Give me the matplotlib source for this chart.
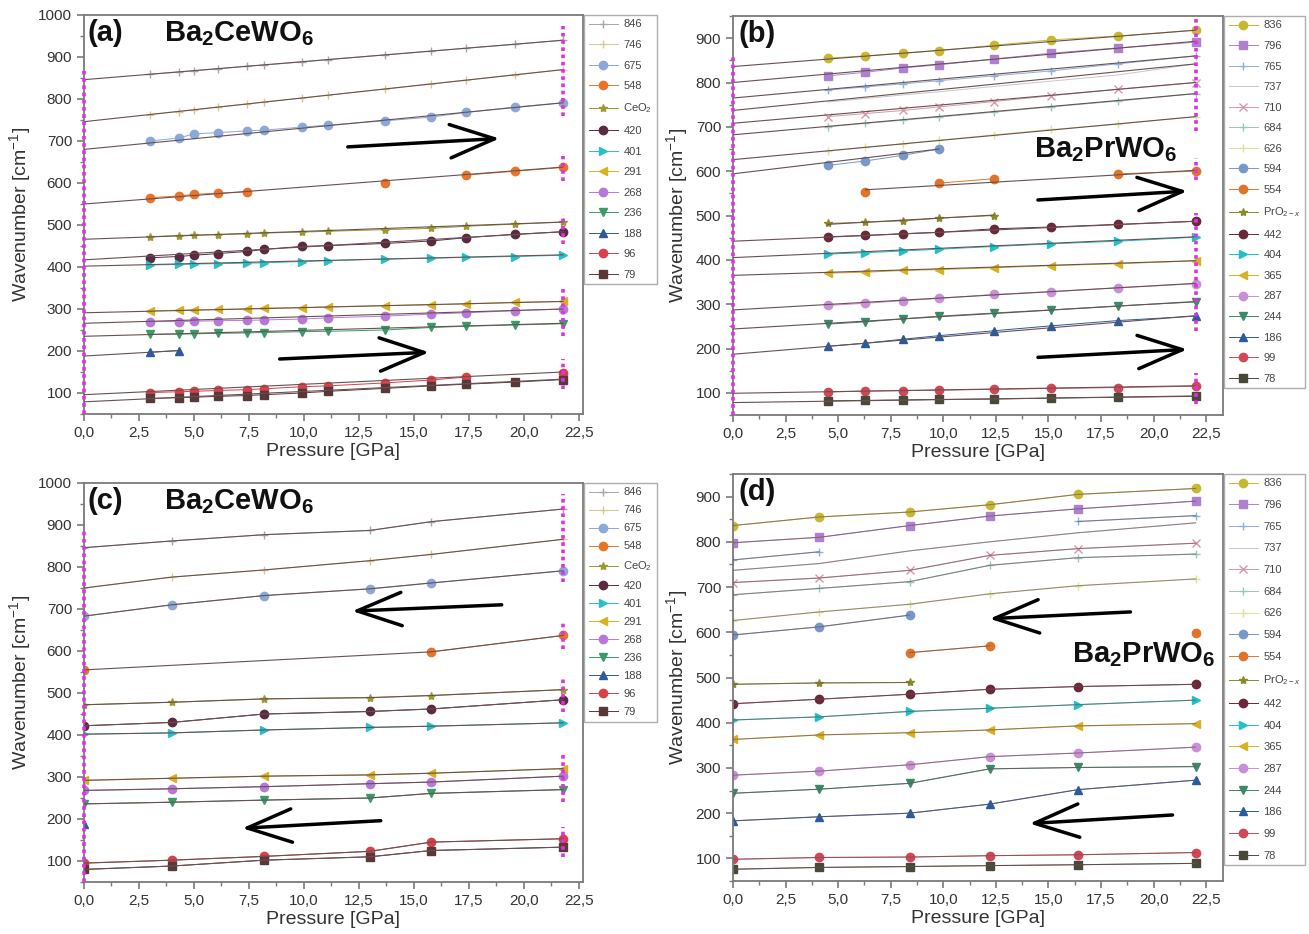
import numpy as np
import matplotlib
matplotlib.use("Agg")
import matplotlib.pyplot as plt
from matplotlib.ticker import MultipleLocator, FuncFormatter

plt.rcParams['font.family'] = ['Liberation Sans', 'DejaVu Sans']
plt.rcParams['mathtext.fontset'] = 'custom'
plt.rcParams['mathtext.rm'] = 'Liberation Sans'
plt.rcParams['mathtext.it'] = 'Liberation Sans:italic'
plt.rcParams['mathtext.bf'] = 'Liberation Sans:bold'

nan = np.nan

# ---------------- data ----------------
labels_ce = ["846", "746", "675", "548", "CeO$_2$", "420", "401", "291", "268", "236", "188", "96", "79"]
labels_pr = ["836", "796", "765", "737", "710", "684", "626", "594", "554", "PrO$_{2-x}$",
             "442", "404", "365", "287", "244", "186", "99", "78"]

# (a) Ba2CeWO6, compression
p_a = [3.0, 4.3, 5.0, 6.1, 7.4, 8.2, 9.9, 11.1, 13.7, 15.8, 17.4, 19.6, 21.8]
wn_a = [
    [859, 864, 867, 872, 878, 881, 888, 894, 905, 914, 921, 930, 940],
    [763, 770, 774, 781, 788, 793, 802, 809, 824, 836, 845, 858, 870],
    [700, 707, 717, 720, 724, 726, 733, 738, 748, 757, 768, 781, 791],
    [565, 569, 573, 576, 579, nan, nan, nan, 601, nan, 619, 628, 637],
    [472, 475, 476, 477, 479, 481, 483, 485, 489, 492, 497, 502, 507],
    [422, 425, 428, 432, 437, 442, 449, 451, 456, 462, 470, 478, 484],
    [405, 406, 407, 408, 409, 410, 413, 415, 419, 421, 423, 425, 428],
    [296, 297, 298, 299, 300, 302, 303, 305, 308, 310, 312, 316, 318],
    [270, 270, 271, 272, 273, 274, 276, 279, 283, 288, 291, 296, 300],
    [240, 240, 241, 242, 243, 244, 246, 247, 250, 256, 259, 262, 265],
    [197, 201, nan, nan, nan, nan, nan, nan, nan, nan, nan, nan, nan],
    [101, 103, 104, 106, 108, 110, 115, 117, 124, 131, 138, nan, 148],
    [87, 89, 90, 92, 94, 96, 100, 104, 111, 117, 121, 126, 132],
]
# linear fits: (p start, wn start, p end, wn end)
fit_a = [(0, 846, 21.8, 940), (0, 746, 21.8, 870), (0, 680, 21.8, 791), (0, 550, 21.8, 638),
         (0, 466, 21.8, 507), (0, 417, 21.8, 484), (0, 402, 21.8, 429), (0, 291, 21.8, 318),
         (0, 266, 21.8, 300), (0, 235, 21.8, 266), (0, 188, 4.3, 201), (0, 96, 21.8, 150),
         (0, 79, 21.8, 133)]

# (b) Ba2PrWO6, compression
p_b = [4.5, 6.3, 8.1, 9.8, 12.4, 15.1, 18.3, 22.0]
wn_b = [
    [855, 860, 866, 872, 884, 896, 905, 918],
    [815, 823, 833, 840, 853, 866, 878, 891],
    [783, 790, 797, 804, 815, 826, 842, 860],
    [756, 764, 772, 779, 791, 803, 817, 842],
    [723, 730, 737, 745, 757, 770, 785, 800],
    [700, 708, 715, 722, 733, 745, 758, 775],
    [645, 654, 662, 670, 682, 694, 706, 723],
    [613, 623, 636, 650, nan, nan, nan, nan],
    [nan, 553, nan, 573, 583, nan, 594, 600],
    [482, 485, 488, 494, 500, nan, nan, nan],
    [452, 455, 459, 462, 470, 474, 480, 487],
    [413, 416, 420, 424, 430, 436, 442, 451],
    [370, 372, 376, 378, 382, 387, 391, 398],
    [297, 302, 308, 313, 322, 328, 337, 346],
    [255, 260, 267, 273, 280, 287, 296, 305],
    [205, 212, 221, 229, 240, 251, 263, 273],
    [102, 104, 105, 106, 108, 110, 112, 115],
    [82, 83, 84, 85, 86, 88, 90, 92],
]
fit_b = [(0, 836, 22, 918), (0, 800, 22, 893), (0, 765, 22, 860), (0, 737, 22, 842),
         (0, 708, 22, 800), (0, 682, 22, 775), (0, 626, 22, 723), (0, 594, 9.8, 650),
         (6.3, 558, 22, 602), (4.5, 480, 12.4, 501), (0, 442, 22, 487), (0, 405, 22, 452),
         (0, 365, 22, 398), (0, 287, 22, 347), (0, 244, 22, 306), (0, 187, 22, 274),
         (0, 99, 22, 116), (0, 78, 22, 93)]

# (c) Ba2CeWO6, decompression
p_c = [0.0, 4.0, 8.2, 13.0, 15.8, 21.8]
wn_c = [
    [846, 862, 877, 887, 908, 938],
    [750, 776, 793, 815, 830, 866],
    [683, 710, 732, 748, 762, 791],
    [555, nan, nan, nan, 598, 637],
    [472, 478, 486, 489, 494, 508],
    [422, 430, 450, 456, 462, 484],
    [402, 405, 412, 418, 421, 429],
    [292, 297, 302, 305, 309, 320],
    [268, 272, 277, 284, 288, 302],
    [236, 240, 245, 250, 261, 270],
    [188, nan, nan, nan, nan, nan],
    [95, 102, 111, 123, 145, 153],
    [80, 88, 102, 110, 125, 133],
]

# (d) Ba2PrWO6, decompression
p_d = [0.0, 4.1, 8.4, 12.2, 16.4, 22.0]
wn_d = [
    [836, 855, 866, 882, 905, 918],
    [798, 810, 836, 857, 873, 890],
    [760, 778, nan, nan, 845, 858],
    [737, 752, 780, 800, 820, 842],
    [710, 720, 737, 770, 785, 797],
    [683, 697, 712, 748, 765, 773],
    [626, 645, 662, 685, 703, 718],
    [594, 612, 638, nan, nan, nan],
    [nan, nan, 555, 570, nan, 598],
    [485, 488, 489, nan, nan, nan],
    [442, 452, 463, 474, 480, 485],
    [406, 413, 425, 432, 440, 450],
    [363, 373, 378, 384, 393, 398],
    [284, 293, 307, 325, 333, 346],
    [244, 253, 266, 298, 301, 303],
    [183, 192, 200, 220, 252, 273],
    [98, 102, 103, 106, 108, 113],
    [76, 80, 82, 84, 86, 89],
]

# magenta markers at the edge pressures: (pressure, wn low, wn high)
edge_a = [(0.0, 50, 875), (21.8, 760, 975), (21.8, 605, 665), (21.8, 455, 525),
          (21.8, 235, 350), (21.8, 110, 180)]
edge_b = [(0.0, 50, 860), (22.0, 690, 950), (22.0, 580, 630), (22.0, 240, 505),
          (22.0, 75, 145)]
edge_c = [(0.0, 50, 890), (21.8, 765, 975), (21.8, 605, 670), (21.8, 455, 540),
          (21.8, 240, 355), (21.8, 110, 180)]

# arrows: (tail, head)
arrows_a = [((12.0, 686), (18.9, 706)), ((8.9, 181), (15.7, 197))]
arrows_b = [((14.5, 535), (21.6, 555)), ((14.5, 180), (21.6, 198))]
arrows_c = [((19.0, 710), (12.2, 695)), ((13.5, 196), (7.2, 178))]
arrows_d = [((18.9, 645), (12.2, 630)), ((20.9, 196), (14.1, 177))]

# ---------------- styles ----------------
colors_ce = ["#a8a8a8", "#d8c890", "#8aa8d8", "#e8742a", "#9a9a30", "#5a2a40", "#28c0c8",
             "#d8b020", "#b878d8", "#3a9a6a", "#2a5aa0", "#d8404a", "#5a3838"]
markers_ce = ["+", "+", "o", "o", "*", "o", ">", "<", "o", "v", "^", "o", "s"]
colors_pr = ["#c8b830", "#b080d0", "#90b0e0", "#c8c8c8", "#d898a8", "#98c8c0", "#e0e098",
             "#7898c8", "#e0742a", "#8a8a28", "#6a2838", "#20c0c8", "#d8b020", "#c890d8",
             "#3a8a6a", "#2a5aa0", "#d04858", "#4a4838"]
markers_pr = ["o", "s", "+", "", "x", "+", "+", "o", "o", "*", "o", ">", "<", "o", "v", "^", "o", "s"]

FIT = "#6a5050"
MAG = "#e030e0"
SPINE = "#7a7a7a"


def comma(x, pos):
    return f"{x:.1f}".replace(".", ",")


def style_axes(ax, ymax, xmax):
    ax.set_xlim(0, xmax)
    ax.set_ylim(50, ymax)
    ax.xaxis.set_major_locator(MultipleLocator(2.5))
    ax.xaxis.set_minor_locator(MultipleLocator(1.25))
    ax.xaxis.set_major_formatter(FuncFormatter(comma))
    ax.yaxis.set_major_locator(MultipleLocator(100))
    ax.yaxis.set_minor_locator(MultipleLocator(50))
    ax.set_yticks(np.arange(100, ymax + 1, 100))
    for s in ax.spines.values():
        s.set_color(SPINE)
        s.set_linewidth(1.3)
    ax.tick_params(which="both", direction="out", color=SPINE, labelsize=11, labelcolor="#333333")
    ax.tick_params(which="major", length=5, width=1.2)
    ax.tick_params(which="minor", length=3, width=1.0)
    ax.set_xlabel("Pressure [GPa]", fontsize=14, color="#333333", labelpad=2)
    ax.set_ylabel("Wavenumber [cm$^{-1}$]", fontsize=14, color="#333333", labelpad=4)


def draw_points(ax, p, wn, labels, colors, markers, connect):
    p = np.array(p)
    for vals, lab, c, m in zip(wn, labels, colors, markers):
        v = np.array(vals, dtype=float)
        if connect == "valid":
            ok = ~np.isnan(v)
            ax.plot(p[ok], v[ok], color=FIT, lw=0.8, zorder=3)
        elif connect == "gaps":
            ax.plot(p, v, color=FIT, lw=0.8, alpha=0.6, zorder=3)
        ax.plot(p, v, color=c, lw=0.7, marker=m, ms=6, mec=c, mew=1.0, label=lab, zorder=2)


def draw_fits(ax, fits):
    for p0, w0, p1, w1 in fits:
        ax.plot([p0, p1], [w0, w1], color=FIT, lw=0.8, zorder=3)


def draw_edges(ax, edges):
    for p, lo, hi in edges:
        ax.vlines(p, lo, hi, color=MAG, lw=2.6, linestyles=(0, (1.0, 1.0)), zorder=4, clip_on=False)


def draw_arrows(ax, arrows):
    for tail, head in arrows:
        ax.annotate("", xy=head, xytext=tail,
                    arrowprops=dict(arrowstyle="->,head_length=1.6,head_width=0.6",
                                    lw=2.5, color="black", mutation_scale=20,
                                    shrinkA=0, shrinkB=0))


def add_legend(ax, spacing):
    leg = ax.legend(loc="upper left", bbox_to_anchor=(1.003, 1.0), borderaxespad=0,
                    fontsize=8, frameon=True, fancybox=False, edgecolor="#999999",
                    labelspacing=spacing, handlelength=2.6, handletextpad=0.5,
                    borderpad=0.4, labelcolor="#444444")
    leg.get_frame().set_linewidth(1.0)


fig = plt.figure(figsize=(13.09, 9.34), dpi=100)
W, H = 1309, 934

def axes_px(left, top, right, bottom):
    return fig.add_axes([left / W, 1 - bottom / H, (right - left) / W, (bottom - top) / H])

title_kw = dict(fontsize=21, fontweight="bold", color="#111111")

# (a)
ax = axes_px(84, 15, 583, 414)
style_axes(ax, 1000, 22.7)
draw_fits(ax, fit_a)
draw_points(ax, p_a, wn_a, labels_ce, colors_ce, markers_ce, None)
draw_edges(ax, edge_a)
draw_arrows(ax, arrows_a)
ax.text(0.008, 0.99, "(a)", transform=ax.transAxes, va="top", ha="left", **title_kw)
ax.text(0.16, 0.99, r"Ba$_\mathbf{2}$CeWO$_\mathbf{6}$", transform=ax.transAxes, va="top", ha="left", **title_kw)
add_legend(ax, 0.95)

# (b)
ax = axes_px(733, 16, 1223, 415)
style_axes(ax, 950, 23.3)
draw_fits(ax, fit_b)
draw_points(ax, p_b, wn_b, labels_pr, colors_pr, markers_pr, None)
draw_edges(ax, edge_b)
draw_arrows(ax, arrows_b)
ax.text(0.012, 0.99, "(b)", transform=ax.transAxes, va="top", ha="left", **title_kw)
ax.text(14.3, 648, r"Ba$_\mathbf{2}$PrWO$_\mathbf{6}$", va="center", ha="left", **title_kw)
add_legend(ax, 0.95)

# (c)
ax = axes_px(84, 483, 583, 882)
style_axes(ax, 1000, 22.7)
draw_points(ax, p_c, wn_c, labels_ce, colors_ce, markers_ce, "valid")
draw_edges(ax, edge_c)
draw_arrows(ax, arrows_c)
ax.text(0.008, 0.99, "(c)", transform=ax.transAxes, va="top", ha="left", **title_kw)
ax.text(0.16, 0.99, r"Ba$_\mathbf{2}$CeWO$_\mathbf{6}$", transform=ax.transAxes, va="top", ha="left", **title_kw)
add_legend(ax, 0.72)

# (d)
ax = axes_px(733, 474, 1223, 881)
style_axes(ax, 950, 23.3)
draw_points(ax, p_d, wn_d, labels_pr, colors_pr, markers_pr, "gaps")
draw_arrows(ax, arrows_d)
ax.text(0.012, 0.99, "(d)", transform=ax.transAxes, va="top", ha="left", **title_kw)
ax.text(16.1, 550, r"Ba$_\mathbf{2}$PrWO$_\mathbf{6}$", va="center", ha="left", **title_kw)
add_legend(ax, 1.05)

fig.savefig("out.png", dpi=100, facecolor="white")
